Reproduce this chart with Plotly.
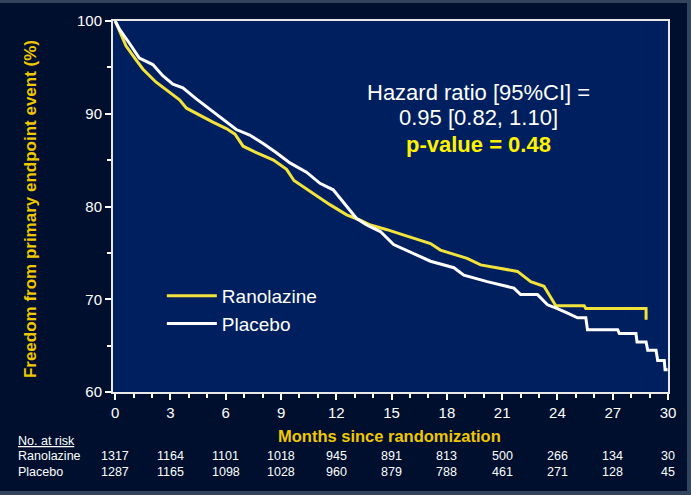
import plotly.graph_objects as go

# ---------------- data ----------------
ran_months = [0, 0.59, 1.13, 1.51, 2.22, 2.9, 3.49, 3.87, 4.42, 5.3, 6.03, 6.5, 6.94, 7.66,
              8.59, 9.3, 9.7, 10.75, 11.65, 12.56, 13.21, 13.85, 14.75, 15.84, 17.11, 17.65,
              19.1, 19.83, 20.92, 21.83, 22.55, 23.27, 23.82, 23.91, 25.45, 25.54, 28.81, 28.81]
ran_surv = [100, 97.3, 95.8, 94.8, 93.4, 92.4, 91.5, 90.6, 90.0, 89.1, 88.4, 87.8, 86.5, 85.8,
            85.0, 84.0, 82.8, 81.4, 80.2, 79.1, 78.6, 78.0, 77.5, 76.8, 76.0, 75.3,
            74.4, 73.7, 73.3, 73.0, 71.9, 71.4, 69.6, 69.3, 69.3, 69.0, 69.0, 67.8]

pla_months = [0, 0.24, 0.77, 1.31, 2.04, 2.58, 3.13, 3.67, 4.4, 5.12, 5.85, 6.57, 7.3, 8.03,
              8.75, 9.48, 10.38, 11.11, 11.83, 12.39, 13.1, 13.65, 14.39, 15.11, 16.02, 17.11,
              18.38, 18.92, 20.19, 21.64, 22.0, 22.92, 23.46, 24.0, 24.55, 25.09, 25.54, 25.63,
              27.27, 27.36, 28.26, 28.32, 28.81, 28.9, 29.35, 29.44, 29.8, 29.84, 29.98]
pla_surv = [100, 99.1, 97.6, 96.0, 95.3, 94.1, 93.2, 92.8, 91.6, 90.5, 89.4, 88.3, 87.7, 86.8,
            85.8, 84.7, 83.7, 82.5, 81.8, 80.4, 78.7, 78.0, 77.3, 75.9, 75.1, 74.1,
            73.4, 72.6, 71.9, 71.2, 70.5, 70.5, 69.4, 69.0, 68.5, 68.0, 68.0, 66.7,
            66.7, 66.3, 66.3, 65.4, 65.4, 64.5, 64.5, 63.4, 63.4, 62.4, 62.4]

risk_months = [0, 3, 6, 9, 12, 15, 18, 21, 24, 27, 30]
ran_risk = [1317, 1164, 1101, 1018, 945, 891, 813, 500, 266, 134, 30]
pla_risk = [1287, 1165, 1098, 1028, 960, 879, 788, 461, 271, 128, 45]

x_ticks = [0, 3, 6, 9, 12, 15, 18, 21, 24, 27, 30]
y_ticks = [60, 70, 80, 90, 100]

# ---------------- styles ----------------
YELLOW = '#f2e33c'
TITLE_YELLOW = '#f0c800'
NARROW = 'Liberation Sans Narrow, Arial Narrow, Liberation Sans, Arial, sans-serif'
ARIAL = 'Liberation Sans, Arial, sans-serif'

fig = go.Figure()
fig.add_trace(go.Scatter(x=ran_months, y=ran_surv, mode='lines', name='Ranolazine',
                         line=dict(color=YELLOW, width=3)))
fig.add_trace(go.Scatter(x=pla_months, y=pla_surv, mode='lines', name='Placebo',
                         line=dict(color='white', width=3)))

fig.update_layout(
    width=691, height=495,
    margin=dict(l=113, r=23, t=21, b=103),
    paper_bgcolor='#000f2e', plot_bgcolor='#001f5e',
    legend=dict(x=0.088, y=0.31, xanchor='left', yanchor='top', itemwidth=50,
                bgcolor='rgba(0,0,0,0)', tracegroupgap=0,
                font=dict(family=ARIAL, size=19, color='white')),
)

fig.update_xaxes(range=[-0.12, 30], tickvals=x_ticks, ticks='outside', ticklen=6,
                 tickwidth=2, tickcolor='white', showline=True, linecolor='#e8e8e8',
                 linewidth=2, mirror=True, showgrid=False, zeroline=False,
                 tickfont=dict(family=NARROW, size=15, color='white'),
                 minor=dict(dtick=1, ticks='outside', ticklen=4, tickcolor='white', tickwidth=2))
fig.update_yaxes(range=[60, 100], tickvals=y_ticks, ticks='outside', ticklen=6,
                 tickwidth=2, tickcolor='white', showline=True, linecolor='#e8e8e8',
                 linewidth=2, mirror=True, showgrid=False, zeroline=False,
                 tickfont=dict(family=NARROW, size=15, color='white'),
                 minor=dict(dtick=5, ticks='outside', ticklen=4, tickcolor='white', tickwidth=2))

# frame bands of the slide
band = '#33455c'
fig.add_shape(type='rect', xref='paper', yref='paper', x0=-0.3, x1=1.1, y0=1.0485, y1=1.07,
              fillcolor=band, line_width=0)
fig.add_shape(type='rect', xref='paper', yref='paper', x0=1.0342, x1=1.06, y0=-0.3, y1=1.1,
              fillcolor=band, line_width=0)
fig.add_shape(type='rect', xref='paper', yref='paper', x0=-0.3, x1=1.1, y0=-0.3, y1=-0.2668,
              fillcolor=band, line_width=0)

ann = []
# axis titles
ann.append(dict(text='<b>Freedom from primary endpoint event (%)</b>', xref='paper', yref='paper',
                x=-0.1495, y=0.493, textangle=-90, showarrow=False, xanchor='center',
                yanchor='middle', font=dict(family=ARIAL, size=17, color=TITLE_YELLOW)))
ann.append(dict(text='<b>Months since randomization</b>', xref='paper', yref='paper',
                x=0.499, y=-0.1186, showarrow=False, xanchor='center', yanchor='middle',
                font=dict(family=ARIAL, size=16.5, color=TITLE_YELLOW)))
# hazard ratio text
ann.append(dict(text='Hazard ratio [95%CI] =', xref='paper', yref='paper', x=0.658, y=0.806,
                showarrow=False, xanchor='center', yanchor='middle',
                font=dict(family=ARIAL, size=22, color='white')))
ann.append(dict(text='0.95 [0.82, 1.10]', xref='paper', yref='paper', x=0.658, y=0.741,
                showarrow=False, xanchor='center', yanchor='middle',
                font=dict(family=ARIAL, size=22, color='white')))
ann.append(dict(text='<b>p-value = 0.48</b>', xref='paper', yref='paper', x=0.658, y=0.668,
                showarrow=False, xanchor='center', yanchor='middle',
                font=dict(family=ARIAL, size=22, color='#fff200')))
# number at risk table
tfont = dict(family=NARROW, size=12.5, color='white')
ann.append(dict(text='<u>No. at risk</u>', xref='paper', yref='paper', x=-0.1748, y=-0.1321,
                showarrow=False, xanchor='left', yanchor='middle', font=tfont))
ann.append(dict(text='Ranolazine', xref='paper', yref='paper', x=-0.1748, y=-0.1725,
                showarrow=False, xanchor='left', yanchor='middle', font=tfont))
ann.append(dict(text='Placebo', xref='paper', yref='paper', x=-0.1748, y=-0.2156,
                showarrow=False, xanchor='left', yanchor='middle', font=tfont))
for m, r, p in zip(risk_months, ran_risk, pla_risk):
    ann.append(dict(text=str(r), xref='x', yref='paper', x=m, y=-0.1725, showarrow=False,
                    xanchor='center', yanchor='middle', font=tfont))
    ann.append(dict(text=str(p), xref='x', yref='paper', x=m, y=-0.2156, showarrow=False,
                    xanchor='center', yanchor='middle', font=tfont))
fig.update_layout(annotations=ann)

fig.write_html('out.html', config={'displayModeBar': False},
               post_script="document.body.style.margin='0';document.body.style.overflow='hidden';")
